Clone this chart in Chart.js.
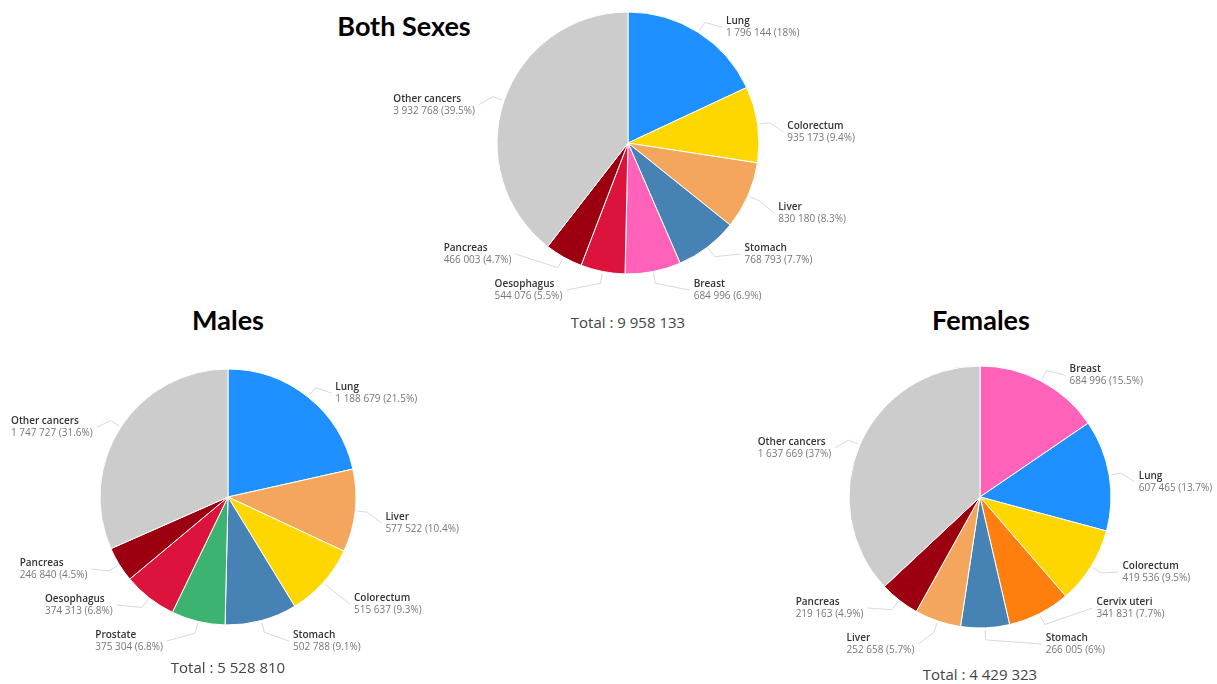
<!DOCTYPE html>
<html>
<head>
<meta charset="utf-8">
<script src="https://cdn.jsdelivr.net/npm/chart.js@4/dist/chart.umd.min.js"></script>
<style>
  html, body { margin: 0; padding: 0; background: #ffffff; }
  body { width: 1217px; height: 684px; position: relative; overflow: hidden; }
  canvas { position: absolute; }
  .title { position: absolute; font-family: "Lato", "Liberation Sans", sans-serif; font-weight: 700;
           font-size: 27px; line-height: 30px; color: #000; white-space: nowrap; transform: translateX(-50%); }
  .total { position: absolute; font-family: "Open Sans", sans-serif; font-size: 15px; line-height: 20px;
           color: #444; white-space: nowrap; transform: translateX(-50%); }
</style>
</head>
<body>
<div class="title" style="left:404px; top:11px;">Both Sexes</div>
<div class="title" style="left:228px; top:305px;">Males</div>
<div class="title" style="left:981px; top:305px;">Females</div>

<canvas id="both" width="500" height="310" style="left:378px; top:0px;"></canvas>
<canvas id="males" width="470" height="320" style="left:0px; top:340px;"></canvas>
<canvas id="females" width="472" height="320" style="left:745px; top:340px;"></canvas>

<div class="total" id="totalBoth" style="left:628px; top:312px;"></div>
<div class="total" id="totalMales" style="left:228px; top:657px;"></div>
<div class="total" id="totalFemales" style="left:980px; top:664px;"></div>

<script>
// Cancer deaths, estimated numbers — both sexes
const bothLabels = ["Lung", "Colorectum", "Liver", "Stomach", "Breast", "Oesophagus", "Pancreas", "Other cancers"];
const bothValues = [1796144, 935173, 830180, 768793, 684996, 544076, 466003, 3932768];

// Males
const maleLabels = ["Lung", "Liver", "Colorectum", "Stomach", "Prostate", "Oesophagus", "Pancreas", "Other cancers"];
const maleValues = [1188679, 577522, 515637, 502788, 375304, 374313, 246840, 1747727];

// Females
const femaleLabels = ["Breast", "Lung", "Colorectum", "Cervix uteri", "Stomach", "Liver", "Pancreas", "Other cancers"];
const femaleValues = [684996, 607465, 419536, 341831, 266005, 252658, 219163, 1637669];

// One colour per cancer site, shared by all three pies
const siteColors = {
  "Lung": "#1e90ff",
  "Colorectum": "#ffd700",
  "Liver": "#f4a65c",
  "Stomach": "#4682b4",
  "Breast": "#ff62b8",
  "Oesophagus": "#dc143c",
  "Pancreas": "#9c0010",
  "Prostate": "#3cb371",
  "Cervix uteri": "#ff7f0e",
  "Other cancers": "#cccccc"
};

function fmt(n) {
  return String(n).replace(/\B(?=(\d{3})+(?!\d))/g, " ");
}
function pct(v, total) {
  let s = (v / total * 100).toFixed(1);
  if (s.endsWith(".0")) s = s.slice(0, -2);
  return s + "%";
}

// Outside labels with leader lines, spread per side so they never overlap
const outsideLabels = {
  id: "outsideLabels",
  afterDatasetsDraw(chart) {
    const ctx = chart.ctx;
    const meta = chart.getDatasetMeta(0);
    const ds = chart.data.datasets[0];
    const total = ds.data.reduce((a, b) => a + b, 0);
    const items = [];
    let cx = 0, cy = 0, r = 0;
    meta.data.forEach((arc, i) => {
      const p = arc.getProps(["x", "y", "startAngle", "endAngle", "outerRadius"], true);
      cx = p.x; cy = p.y; r = p.outerRadius;
      items.push({ i, mid: (p.startAngle + p.endAngle) / 2 });
    });
    const R = r + 30;          // label ring
    const Ry = r + 18;         // vertical target ring
    const gap = 36;            // min distance between label centres
    const maxY = cy + r + 16;  // lowest label centre
    items.forEach(it => {
      it.right = Math.cos(it.mid) >= 0;
      it.target = cy + Math.sin(it.mid) * Ry + 10;
      it.y = Math.min(it.target, maxY);
    });
    [true, false].forEach(side => {
      // top to bottom: clockwise on the right, anticlockwise on the left
      const list = items.filter(it => it.right === side)
        .sort((a, b) => side ? a.mid - b.mid : b.mid - a.mid);
      for (let k = list.length - 2; k >= 0; k--) {
        list[k].y = Math.min(list[k].y, list[k + 1].y - gap);
      }
      for (let k = 1; k < list.length; k++) {
        list[k].y = Math.max(list[k].y, list[k - 1].y + gap);
      }
    });
    ctx.save();
    items.forEach(it => {
      const moved = it.y < it.target - 0.5;
      const dy = it.y - cy - (moved ? 0 : 12);
      const dx = Math.sqrt(Math.max(R * R - dy * dy, 0));
      const x = it.right ? cx + dx : cx - dx;
      const name = chart.data.labels[it.i];
      const val = ds.data[it.i];
      const line2 = fmt(val) + " (" + pct(val, total) + ")";

      // leader line
      const ex = cx + Math.cos(it.mid) * (r + 2);
      const ey = cy + Math.sin(it.mid) * (r + 2);
      const bx = cx + Math.cos(it.mid) * (r + 12);
      const by = cy + Math.sin(it.mid) * (r + 12);
      ctx.strokeStyle = "#d9d9d9";
      ctx.lineWidth = 1;
      ctx.beginPath();
      ctx.moveTo(ex, ey);
      ctx.lineTo(bx, by);
      ctx.lineTo(it.right ? x - 4 : x + 4, it.y);
      ctx.stroke();

      // text block
      ctx.textBaseline = "middle";
      ctx.textAlign = "left";
      ctx.font = "600 10px 'Open Sans'";
      const w1 = ctx.measureText(name).width;
      ctx.font = "10px 'Open Sans'";
      const w2 = ctx.measureText(line2).width;
      const w = Math.max(w1, w2);
      const tx = it.right ? x : x - w;
      ctx.font = "600 10px 'Open Sans'";
      ctx.fillStyle = "#333333";
      ctx.fillText(name, tx, it.y - 6);
      ctx.font = "10px 'Open Sans'";
      ctx.fillStyle = "#777777";
      ctx.fillText(line2, tx, it.y + 6);
    });
    ctx.restore();
  }
};

function makePie(id, labels, values, radius, padding) {
  return new Chart(document.getElementById(id), {
    type: "pie",
    data: {
      labels: labels,
      datasets: [{
        data: values,
        backgroundColor: labels.map(l => siteColors[l]),
        borderColor: "#ffffff",
        borderWidth: 1,
        hoverOffset: 0
      }]
    },
    options: {
      responsive: false,
      animation: false,
      radius: radius,
      layout: { padding: padding },
      plugins: { legend: { display: false }, tooltip: { enabled: false } }
    },
    plugins: [outsideLabels]
  });
}

makePie("both", bothLabels, bothValues, 131, { top: 0, bottom: 24, left: 0, right: 0 });
makePie("males", maleLabels, maleValues, 128, { top: 0, bottom: 6, left: 0, right: 14 });
makePie("females", femaleLabels, femaleValues, 131, { top: 0, bottom: 6, left: 0, right: 2 });

const sum = a => a.reduce((x, y) => x + y, 0);
document.getElementById("totalBoth").textContent = "Total : " + fmt(sum(bothValues));
document.getElementById("totalMales").textContent = "Total : " + fmt(sum(maleValues));
document.getElementById("totalFemales").textContent = "Total : " + fmt(sum(femaleValues));
</script>
</body>
</html>
